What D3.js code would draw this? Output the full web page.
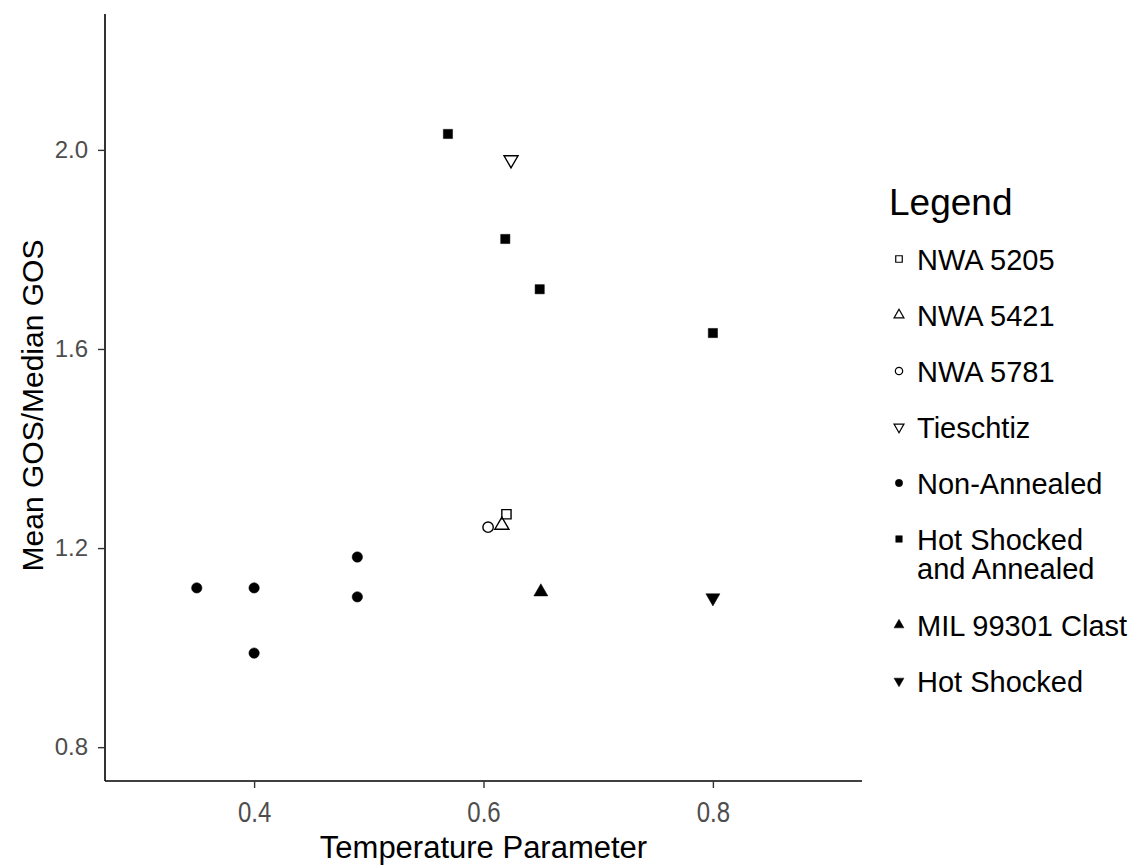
<!DOCTYPE html>
<html>
<head>
<meta charset="utf-8">
<script src="https://cdn.jsdelivr.net/npm/d3@7"></script>
<style>
  body { margin: 0; background: #fff; }
  text { font-family: "Liberation Sans", Arial, sans-serif; }
</style>
</head>
<body>
<div id="chart"></div>
<script>
// Series, in legend order
const seriesNames = [
  'NWA 5205', 'NWA 5421', 'NWA 5781', 'Tieschtiz',
  'Non-Annealed', 'Hot Shocked and Annealed', 'MIL 99301 Clast', 'Hot Shocked'
];

// One entry per point
const pointSeries = [
  'NWA 5205', 'NWA 5421', 'NWA 5781', 'Tieschtiz',
  'Non-Annealed', 'Non-Annealed', 'Non-Annealed', 'Non-Annealed', 'Non-Annealed',
  'Hot Shocked and Annealed', 'Hot Shocked and Annealed', 'Hot Shocked and Annealed', 'Hot Shocked and Annealed',
  'MIL 99301 Clast', 'Hot Shocked'
];
const temperature = [
  0.62, 0.616, 0.604, 0.624,
  0.35, 0.40, 0.40, 0.49, 0.49,
  0.569, 0.619, 0.649, 0.80,
  0.65, 0.80
];
const gosRatio = [
  1.268, 1.246, 1.242, 1.98,
  1.12, 1.12, 0.989, 1.182, 1.102,
  2.032, 1.821, 1.72, 1.632,
  1.112, 1.10
];

const xTicks = [0.4, 0.6, 0.8];
const yTicks = [0.8, 1.2, 1.6, 2.0];

const width = 1129, height = 865;
const plot = { left: 105, right: 862, top: 14, bottom: 781 };

// Marker style for each series (ggplot shapes 0, 2, 1, 6, 16, 15, 17, 25)
const markerStyle = {
  'NWA 5205':                 { type: d3.symbolSquare,   filled: false, rotate: 0 },
  'NWA 5421':                 { type: d3.symbolTriangle, filled: false, rotate: 0 },
  'NWA 5781':                 { type: d3.symbolCircle,   filled: false, rotate: 0 },
  'Tieschtiz':                { type: d3.symbolTriangle, filled: false, rotate: 180 },
  'Non-Annealed':             { type: d3.symbolCircle,   filled: true,  rotate: 0 },
  'Hot Shocked and Annealed': { type: d3.symbolSquare,   filled: true,  rotate: 0 },
  'MIL 99301 Clast':          { type: d3.symbolTriangle, filled: true,  rotate: 0 },
  'Hot Shocked':              { type: d3.symbolTriangle, filled: true,  rotate: 180 }
};
const symbolArea = {};
symbolArea[d3.symbolSquare] = 100;
symbolArea[d3.symbolCircle] = 108;
symbolArea[d3.symbolTriangle] = 85;

const x = d3.scaleLinear().domain([0.27, 0.93]).range([plot.left, plot.right]);
const y = d3.scaleLinear().domain([0.732, 2.273]).range([plot.bottom, plot.top]);

const svg = d3.select('#chart').append('svg')
  .attr('width', width)
  .attr('height', height);

// Axes
const xAxis = svg.append('g')
  .attr('transform', 'translate(0,' + plot.bottom + ')')
  .call(d3.axisBottom(x).tickValues(xTicks).tickFormat(d3.format('.1f')).tickSize(7).tickPadding(0));
const yAxis = svg.append('g')
  .attr('transform', 'translate(' + plot.left + ',0)')
  .call(d3.axisLeft(y).tickValues(yTicks).tickFormat(d3.format('.1f')).tickSize(7).tickPadding(10));

[xAxis, yAxis].forEach(function (g) {
  g.select('.domain').attr('stroke', '#000').attr('stroke-width', 1.6);
  g.selectAll('.tick line').attr('stroke', '#333').attr('stroke-width', 1.4);
  g.selectAll('.tick text').attr('fill', '#4d4d4d').style('font-size', '24px');
});
// ggplot draws the axis lines only over the panel, no end caps
xAxis.select('.domain').attr('d', 'M' + plot.left + ',0H' + plot.right);
yAxis.select('.domain').attr('d', 'M0,' + plot.bottom + 'V' + plot.top);

// x tick labels look slightly condensed in the original
xAxis.selectAll('.tick text')
  .attr('y', 0)
  .attr('dy', 0)
  .attr('transform', 'translate(0,41) scale(1,1.2)');

// Axis titles
svg.append('text')
  .attr('x', (plot.left + plot.right) / 2)
  .attr('y', 858)
  .attr('text-anchor', 'middle')
  .style('font-size', '31px')
  .text('Temperature Parameter');

svg.append('text')
  .attr('transform', 'translate(43,' + ((plot.top + plot.bottom) / 2 + 8) + ') rotate(-90)')
  .attr('text-anchor', 'middle')
  .style('font-size', '30px')
  .text('Mean GOS/Median GOS');

// Points
function markerPath(name, scaleFactor) {
  const m = markerStyle[name];
  return d3.symbol().type(m.type).size(symbolArea[m.type] * scaleFactor)();
}

const points = d3.range(temperature.length).map(function (i) {
  return { series: pointSeries[i], t: temperature[i], g: gosRatio[i] };
});

svg.append('g')
  .selectAll('path')
  .data(points)
  .enter()
  .append('path')
  .attr('d', function (d) { return markerPath(d.series, 1); })
  .attr('transform', function (d) {
    return 'translate(' + x(d.t) + ',' + y(d.g) + ') rotate(' + markerStyle[d.series].rotate + ')';
  })
  .attr('fill', function (d) { return markerStyle[d.series].filled ? '#000' : 'none'; })
  .attr('stroke', '#000')
  .attr('stroke-width', function (d) { return markerStyle[d.series].filled ? 0.5 : 1.4; });

// Legend
const legend = svg.append('g');
legend.append('text')
  .attr('x', 889)
  .attr('y', 215)
  .style('font-size', '37px')
  .text('Legend');

const legendLines = {
  'Hot Shocked and Annealed': ['Hot Shocked', 'and Annealed']
};
let itemY = 259;
seriesNames.forEach(function (name) {
  const lines = legendLines[name] || [name];
  const m = markerStyle[name];
  legend.append('path')
    .attr('d', markerPath(name, 0.5))
    .attr('transform', 'translate(899,' + itemY + ') rotate(' + m.rotate + ')')
    .attr('fill', m.filled ? '#000' : 'none')
    .attr('stroke', '#000')
    .attr('stroke-width', m.filled ? 0.5 : 1.2);
  const t = legend.append('text')
    .attr('x', 917)
    .attr('y', itemY + 11)
    .style('font-size', '29px');
  lines.forEach(function (line, j) {
    t.append('tspan').attr('x', 917).attr('dy', j === 0 ? 0 : 29).text(line);
  });
  itemY += 56 + (lines.length - 1) * 30;
});
</script>
</body>
</html>
